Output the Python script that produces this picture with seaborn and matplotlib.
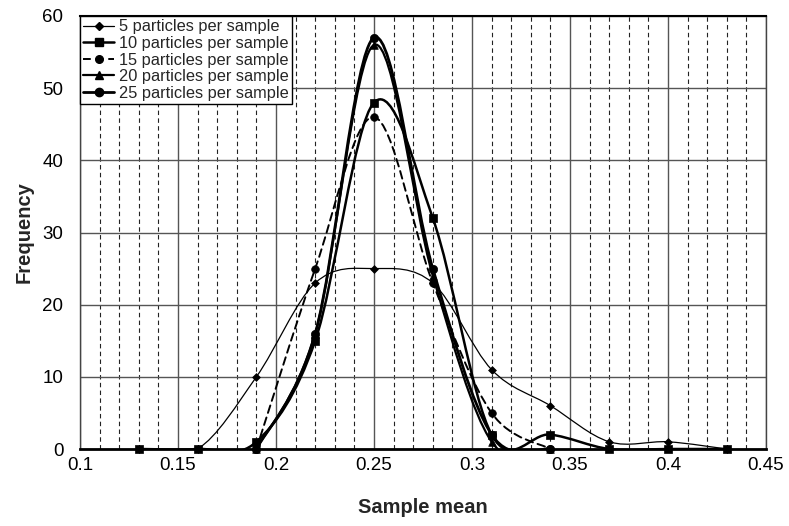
import numpy as np
import pandas as pd
import matplotlib
matplotlib.use("Agg")
import matplotlib.pyplot as plt
import seaborn as sns
from matplotlib.path import Path
from matplotlib.patches import PathPatch
from matplotlib.lines import Line2D
from matplotlib.ticker import MultipleLocator, FormatStrFormatter

# Sample means (bin centres) and observed frequencies for each sample size
means_5 = [0.13, 0.16, 0.19, 0.22, 0.25, 0.28, 0.31, 0.34, 0.37, 0.40, 0.43]
freq_5 = [0, 0, 10, 23, 25, 23, 11, 6, 1, 1, 0]

means_10 = [0.13, 0.16, 0.19, 0.22, 0.25, 0.28, 0.31, 0.34, 0.37, 0.40, 0.43]
freq_10 = [0, 0, 1, 15, 48, 32, 2, 2, 0, 0, 0]

means_15 = [0.19, 0.22, 0.25, 0.28, 0.31, 0.34]
freq_15 = [0, 25, 46, 23, 5, 0]

means_20 = [0.19, 0.22, 0.25, 0.28, 0.31, 0.34]
freq_20 = [0, 16, 56, 24, 1, 0]

means_25 = [0.19, 0.22, 0.25, 0.28, 0.31, 0.34]
freq_25 = [0, 16, 57, 25, 2, 0]

labels = ["5 particles per sample", "10 particles per sample",
          "15 particles per sample", "20 particles per sample",
          "25 particles per sample"]

series = [
    dict(x=means_5, y=freq_5, marker="D", ms=4.0, lw=0.9, ls="-"),
    dict(x=means_10, y=freq_10, marker="s", ms=6.0, lw=1.8, ls="-"),
    dict(x=means_15, y=freq_15, marker="o", ms=5.5, lw=1.4, ls=(0, (4, 2.5))),
    dict(x=means_20, y=freq_20, marker="^", ms=5.5, lw=1.6, ls="-"),
    dict(x=means_25, y=freq_25, marker="o", ms=6.0, lw=2.0, ls="-"),
]

frames = []
for lab, s in zip(labels, series):
    frames.append(pd.DataFrame({"mean": s["x"], "freq": s["y"], "series": lab}))
data = pd.concat(frames, ignore_index=True)


def smooth_path(xs, ys):
    """Cubic Bezier path through the points (Catmull-Rom style smoothing)."""
    pts = np.column_stack([xs, ys]).astype(float)
    ext = np.vstack([pts[0], pts, pts[-1]])
    verts = [pts[0]]
    codes = [Path.MOVETO]
    for i in range(len(pts) - 1):
        p0, p1, p2, p3 = ext[i], ext[i + 1], ext[i + 2], ext[i + 3]
        c1 = p1 + (p2 - p0) / 6.0
        c2 = p2 - (p3 - p1) / 6.0
        verts += [c1, c2, p2]
        codes += [Path.CURVE4] * 3
    return Path(verts, codes)


sns.set_theme(style="white")
plt.rcParams["font.family"] = ["Liberation Sans", "DejaVu Sans"]

fig = plt.figure(figsize=(7.89, 5.26), dpi=100)
ax = fig.add_axes([80 / 789, 1 - 449 / 526, (766 - 80) / 789, (449 - 16) / 526])

ax.set_xlim(0.1, 0.45)
ax.set_ylim(0, 60)

# grid: solid majors, dashed minors on x
ax.xaxis.set_major_locator(MultipleLocator(0.05))
ax.xaxis.set_minor_locator(MultipleLocator(0.01))
ax.yaxis.set_major_locator(MultipleLocator(10))
ax.xaxis.set_major_formatter(FormatStrFormatter("%g"))
ax.grid(which="major", axis="both", color="#555555", lw=1.0, ls="-", zorder=0)
ax.grid(which="minor", axis="x", color="#222222", lw=0.8, ls=(0, (4, 3)), zorder=0)
ax.set_axisbelow(True)

for lab, s in zip(labels, series):
    sub = data[data["series"] == lab]
    patch = PathPatch(smooth_path(sub["mean"], sub["freq"]), fill=False,
                      edgecolor="black", lw=s["lw"], ls=s["ls"], zorder=3,
                      capstyle="round")
    ax.add_patch(patch)
    sns.scatterplot(data=sub, x="mean", y="freq", marker=s["marker"],
                    s=s["ms"] ** 2, color="black", edgecolor="black",
                    linewidth=0.5, ax=ax, legend=False, zorder=4, clip_on=False)

ax.set_xlim(0.1, 0.45)
ax.set_ylim(0, 60)

ax.tick_params(axis="both", which="both", length=0, labelsize=13.5,
               colors="black")
ax.tick_params(axis="x", pad=6)
ax.tick_params(axis="y", pad=12)
ax.set_xlabel("Sample mean", fontsize=14.5, fontweight="bold", labelpad=17)
ax.set_ylabel("Frequency", fontsize=14.5, fontweight="bold", labelpad=6)

for side in ["left", "right"]:
    ax.spines[side].set_color("#444444")
    ax.spines[side].set_linewidth(1.0)
ax.spines["bottom"].set_color("black")
ax.spines["bottom"].set_linewidth(2.0)
ax.spines["top"].set_color("black")
ax.spines["top"].set_linewidth(1.5)

handles = [Line2D([], [], color="black", marker=s["marker"], markersize=s["ms"],
                  lw=s["lw"], ls=s["ls"]) for s in series]
leg = ax.legend(handles, labels, loc="upper left", bbox_to_anchor=(0, 1),
                borderaxespad=0, fontsize=11.8, frameon=True, fancybox=False,
                edgecolor="black", framealpha=1, handlelength=1.9,
                handletextpad=0.25, labelspacing=0.1, borderpad=0.2)
leg.get_frame().set_linewidth(1.0)
leg.set_zorder(10)

fig.savefig("out.png", dpi=100)
